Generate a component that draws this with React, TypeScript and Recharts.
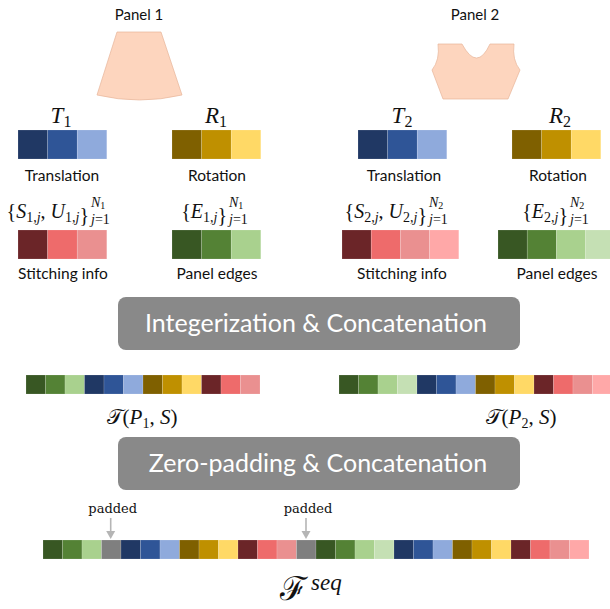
import { ComposedChart, Customized, Scatter, XAxis, YAxis } from "recharts";

const W = 610;
const H = 609;

// token colours per attribute
const TRANSLATION = ["#203864", "#2f5597", "#8faadc"];
const ROTATION = ["#7f6000", "#bf9000", "#ffd966"];
const STITCH_1 = ["#6b2528", "#ee6b6b", "#ea9090"];
const STITCH_2 = ["#6b2528", "#ee6b6b", "#ea9090", "#ffa8a8"];
const EDGES_1 = ["#385723", "#548235", "#a9d18e"];
const EDGES_2 = ["#385723", "#548235", "#a9d18e", "#c5e0b4"];
const PAD = "#7f7f7f";

const SEQ_P1 = [...EDGES_1, ...TRANSLATION, ...ROTATION, ...STITCH_1];
const SEQ_P2 = [...EDGES_2, ...TRANSLATION, ...ROTATION, ...STITCH_2];
const SEQ_FULL = [...EDGES_1, PAD, ...TRANSLATION, ...ROTATION, ...STITCH_1, PAD, ...SEQ_P2];

const PANELS = ["Panel 1", "Panel 2"];
const STEPS = ["Integerization & Concatenation", "Zero-padding & Concatenation"];

const C = {
  text: "#111111",
  box: "#898989",
  panel: "#fdd5be",
  panelStroke: "#e6b49a",
  arrow: "#b5b5b5",
};
const SANS = "Lato, 'Open Sans', sans-serif";
const SERIF = "'Liberation Serif', 'DejaVu Serif', serif";

type Strip = { colors: string[]; x0: number; y0: number; w: number; h: number };

const strips: Strip[] = [
  { colors: TRANSLATION, x0: 18, y0: 130, w: 29.6, h: 29 },
  { colors: ROTATION, x0: 172, y0: 130, w: 29.6, h: 29 },
  { colors: STITCH_1, x0: 18, y0: 230, w: 29.6, h: 29 },
  { colors: EDGES_1, x0: 172, y0: 230, w: 29.6, h: 29 },
  { colors: TRANSLATION, x0: 358, y0: 130, w: 29.6, h: 29 },
  { colors: ROTATION, x0: 512, y0: 130, w: 29.6, h: 29 },
  { colors: STITCH_2, x0: 342, y0: 230, w: 29.2, h: 29 },
  { colors: EDGES_2, x0: 498, y0: 230, w: 29.2, h: 29 },
  { colors: SEQ_P1, x0: 26, y0: 375, w: 19.5, h: 19 },
  { colors: SEQ_P2, x0: 339, y0: 375, w: 19.5, h: 19 },
  { colors: SEQ_FULL, x0: 43, y0: 540, w: 19.5, h: 19 },
];

const cells = strips.flatMap((s) =>
  s.colors.map((c, i) => ({ x: s.x0 + (i + 0.5) * s.w, y: s.y0 + s.h / 2, fill: c, w: s.w, h: s.h }))
);

function Cell(props: any) {
  const { cx, cy, payload } = props;
  return (
    <rect
      x={cx - payload.w / 2}
      y={cy - payload.h / 2}
      width={payload.w}
      height={payload.h}
      fill={payload.fill}
      stroke="#ffffff"
      strokeOpacity={0.25}
      strokeWidth={0.6}
    />
  );
}

function Sym({ x, y, main, sub }: { x: number; y: number; main: string; sub: string }) {
  return (
    <text x={x} y={y} textAnchor="middle" fontFamily={SERIF} fontSize={23} fill={C.text}>
      <tspan fontStyle="italic">{main}</tspan>
      <tspan fontSize={16} dy={4}>{sub}</tspan>
    </text>
  );
}

function SetLabel({ end, y, idx, vars }: { end: number; y: number; idx: string; vars: string[] }) {
  return (
    <g fontFamily={SERIF} fill={C.text}>
      <text x={end} y={y} textAnchor="end" fontSize={20}>
        {"{"}
        {vars.map((v, i) => (
          <tspan key={v}>
            <tspan fontStyle="italic">{v}</tspan>
            <tspan fontSize={14} dy={4}>{idx + ","}</tspan>
            <tspan fontSize={14} fontStyle="italic">j</tspan>
            <tspan dy={-4}>{i < vars.length - 1 ? ", " : ""}</tspan>
          </tspan>
        ))}
        {"}"}
      </text>
      <text x={end + 2} y={y - 11} fontSize={14}>
        <tspan fontStyle="italic">N</tspan>
        <tspan fontSize={10} dy={2}>{idx}</tspan>
      </text>
      <text x={end + 2} y={y + 6} fontSize={14}>
        <tspan fontStyle="italic">j</tspan>=1
      </text>
    </g>
  );
}

function Seq({ x, y, idx }: { x: number; y: number; idx: string }) {
  return (
    <text x={x} y={y} textAnchor="middle" fontFamily={SERIF} fontSize={21} fill={C.text}>
      <tspan>𝒯</tspan>(<tspan fontStyle="italic">P</tspan>
      <tspan fontSize={14} dy={4}>{idx}</tspan>
      <tspan dy={-4}>, </tspan>
      <tspan fontStyle="italic">S</tspan>)
    </text>
  );
}

function Padded({ x }: { x: number }) {
  return (
    <g>
      <text x={x + 2} y={513} textAnchor="middle" fontFamily="'DejaVu Serif', serif" fontSize={13} fill={C.text}>
        padded
      </text>
      <line x1={x} x2={x} y1={518} y2={532} stroke={C.arrow} strokeWidth={1.6} />
      <path d={`M${x - 4.5},531 L${x + 4.5},531 L${x},539 Z`} fill={C.arrow} />
    </g>
  );
}

function Drawing() {
  return (
    <g>
      <path
        d="M117,32 L161,32 L182,95 Q139.5,105 97,95 Z"
        fill={C.panel}
        stroke={C.panelStroke}
        strokeWidth={0.7}
      />
      <path
        d="M438,44 L462,44 Q477,72 490,44 L514,44 Q512,60 520,70 L508,99 L443,99 L432,70 Q440,60 438,44 Z"
        fill={C.panel}
        stroke={C.panelStroke}
        strokeWidth={0.7}
      />
      <g fontFamily={SANS} fill={C.text} textAnchor="middle">
        <text x={139} y={20} fontSize={15}>{PANELS[0]}</text>
        <text x={475} y={20} fontSize={15}>{PANELS[1]}</text>
        <g fontSize={15.5}>
          <text x={62} y={181}>Translation</text>
          <text x={217} y={181}>Rotation</text>
          <text x={404} y={181}>Translation</text>
          <text x={558} y={181}>Rotation</text>
          <text x={63} y={279}>Stitching info</text>
          <text x={217} y={279}>Panel edges</text>
          <text x={402} y={279}>Stitching info</text>
          <text x={557} y={279}>Panel edges</text>
        </g>
      </g>
      <Sym x={61} y={123} main="T" sub="1" />
      <Sym x={216} y={123} main="R" sub="1" />
      <Sym x={402} y={123} main="T" sub="2" />
      <Sym x={560} y={123} main="R" sub="2" />
      <SetLabel end={89} y={218} idx="1" vars={["S", "U"]} />
      <SetLabel end={227} y={218} idx="1" vars={["E"]} />
      <SetLabel end={427} y={218} idx="2" vars={["S", "U"]} />
      <SetLabel end={568} y={218} idx="2" vars={["E"]} />
      <rect x={118} y={297} width={402} height={53} rx={8} fill={C.box} />
      <text x={316} y={332} textAnchor="middle" fontFamily={SANS} fontSize={25} fill="#ffffff">
        {STEPS[0]}
      </text>
      <Seq x={142} y={424} idx="1" />
      <Seq x={521} y={424} idx="2" />
      <rect x={118} y={437} width={402} height={53} rx={8} fill={C.box} />
      <text x={318} y={472} textAnchor="middle" fontFamily={SANS} fontSize={25} fill="#ffffff">
        {STEPS[1]}
      </text>
      <Padded x={110.7} />
      <Padded x={306} />
      <text x={280} y={600} fontFamily={SERIF} fontSize={33} fill={C.text}>
        ℱ
      </text>
      <text x={311} y={590} fontFamily={SERIF} fontSize={23} fontStyle="italic" fill={C.text}>
        seq
      </text>
    </g>
  );
}

export default function App() {
  return (
    <div style={{ position: "absolute", left: 0, top: 0, width: W, height: H, background: "#ffffff" }}>
      <ComposedChart width={W} height={H} margin={{ top: 0, right: 0, bottom: 0, left: 0 }}>
        <XAxis type="number" dataKey="x" domain={[0, W]} hide allowDataOverflow />
        <YAxis type="number" dataKey="y" domain={[0, H]} reversed hide allowDataOverflow />
        <Customized component={Drawing} />
        <Scatter data={cells} shape={Cell} isAnimationActive={false} />
      </ComposedChart>
    </div>
  );
}
